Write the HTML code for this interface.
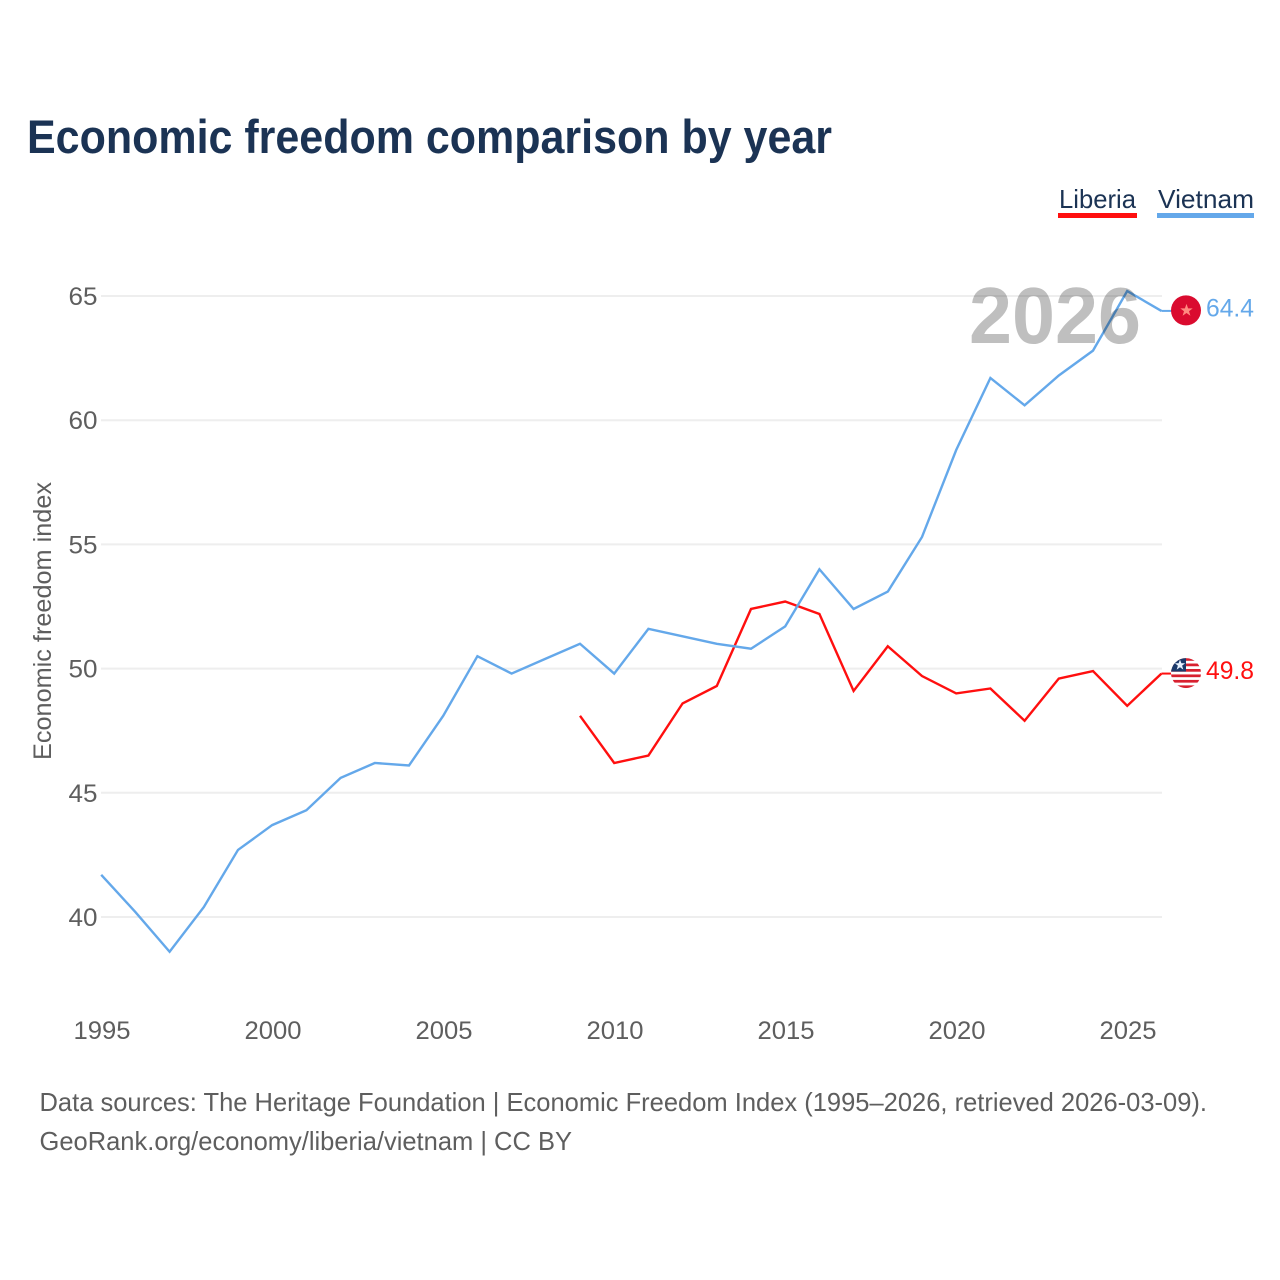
<!DOCTYPE html>
<html lang="en">
<head>
<meta charset="utf-8">
<title>Economic freedom comparison by year</title>
<style>
html,body{margin:0;padding:0;background:#fff}
svg{display:block}
text{font-family:"Liberation Sans",sans-serif}
</style>
</head>
<body>
<svg id="chart" xmlns="http://www.w3.org/2000/svg" width="1280" height="1280" viewBox="0 0 1280 1280">
  <defs>
    <clipPath id="flag-clip-lr"><circle id="clip-lr" r="15"></circle></clipPath>
  </defs>
  <rect width="1280" height="1280" fill="#fff"></rect>
  <text x="27" y="153" font-size="47" font-weight="700" fill="#1b3354" textLength="805" lengthAdjust="spacingAndGlyphs">Economic freedom comparison by year</text>

  <g>
    <text x="1059" y="208" font-size="26" fill="#1b3354" textLength="77" lengthAdjust="spacingAndGlyphs">Liberia</text>
    <rect x="1058" y="213" width="79" height="5" fill="#ff0f0f"></rect>
  </g>
  <g>
    <text x="1158" y="208" font-size="26" fill="#1b3354" textLength="96" lengthAdjust="spacingAndGlyphs">Vietnam</text>
    <rect x="1157" y="213" width="97" height="5" fill="#64a8ea"></rect>
  </g>

  <g id="grid"></g>
  <g id="y-ticks"></g>
  <g id="x-ticks"></g>
  <text transform="translate(51,621) rotate(-90)" text-anchor="middle" font-size="25" fill="#5e5e5e" textLength="278" lengthAdjust="spacingAndGlyphs">Economic freedom index</text>

  <path id="line-liberia" fill="none" stroke="#ff0f0f" stroke-width="2.4" stroke-linejoin="miter"></path>
  <path id="line-vietnam" fill="none" stroke="#64a8ea" stroke-width="2.4" stroke-linejoin="miter"></path>

  <text x="969" y="343" font-size="80" font-weight="700" fill="#000" fill-opacity="0.25" textLength="172" lengthAdjust="spacingAndGlyphs">2026</text>

  <g id="end-vietnam"></g>
  <g id="end-liberia"></g>

  <text x="39.5" y="1111" font-size="26" fill="#5e5e5e" textLength="1167.5" lengthAdjust="spacingAndGlyphs">Data sources: The Heritage Foundation | Economic Freedom Index (1995–2026, retrieved 2026-03-09).</text>
  <text x="39.5" y="1150" font-size="26" fill="#5e5e5e" textLength="532.5" lengthAdjust="spacingAndGlyphs">GeoRank.org/economy/liberia/vietnam | CC BY</text>
</svg>
<script>
const vietnamYears = [1995,1996,1997,1998,1999,2000,2001,2002,2003,2004,2005,2006,2007,2008,2009,2010,2011,2012,2013,2014,2015,2016,2017,2018,2019,2020,2021,2022,2023,2024,2025,2026];
const vietnamValues = [41.7,40.2,38.6,40.4,42.7,43.7,44.3,45.6,46.2,46.1,48.1,50.5,49.8,50.4,51.0,49.8,51.6,51.3,51.0,50.8,51.7,54.0,52.4,53.1,55.3,58.8,61.7,60.6,61.8,62.8,65.2,64.4];
const liberiaYears = [2009,2010,2011,2012,2013,2014,2015,2016,2017,2018,2019,2020,2021,2022,2023,2024,2025,2026];
const liberiaValues = [48.1,46.2,46.5,48.6,49.3,52.4,52.7,52.2,49.1,50.9,49.7,49.0,49.2,47.9,49.6,49.9,48.5,49.8];
const yTickValues = [40,45,50,55,60,65];
const xTickValues = [1995,2000,2005,2010,2015,2020,2025];

const SVG_NS = 'http://www.w3.org/2000/svg';
function xScale(year){ return 101.2 + (year - 1995) * 34.2; }
function yScale(value){ return 917 - (value - 40) * 24.84; }
function make(tag, attrs, parent){
  const el = document.createElementNS(SVG_NS, tag);
  for (const k in attrs) el.setAttribute(k, attrs[k]);
  parent.appendChild(el);
  return el;
}
function linePath(years, values){
  return years.map((y, i) => (i ? 'L' : 'M') + xScale(y).toFixed(2) + ' ' + yScale(values[i]).toFixed(2)).join(' ');
}

const gridGroup = document.getElementById('grid');
const yGroup = document.getElementById('y-ticks');
const xGroup = document.getElementById('x-ticks');

yTickValues.forEach(function(v){
  const line = make('line', {x1: 101, x2: 1162, y1: yScale(v), y2: yScale(v), stroke: '#eeeeee', 'stroke-width': 2}, gridGroup);
  
  
  const t = make('text', {x: 97.5, y: yScale(v) + 9, 'text-anchor': 'end', 'font-size': 25, fill: '#5e5e5e', textLength: 29, lengthAdjust: 'spacingAndGlyphs'}, yGroup);
  t.textContent = String(v);
  
  
});

xTickValues.forEach(function(v){
  const t = make('text', {x: xScale(v) + 0.8, y: 1039, 'text-anchor': 'middle', 'font-size': 25, fill: '#5e5e5e', textLength: 57, lengthAdjust: 'spacingAndGlyphs'}, xGroup);
  t.textContent = String(v);
  
  
});

document.getElementById('line-vietnam').setAttribute('d', linePath(vietnamYears, vietnamValues));
document.getElementById('line-liberia').setAttribute('d', linePath(liberiaYears, liberiaValues));

/* Vietnam end marker */
const vnValue = vietnamValues[vietnamValues.length - 1];
const vnY = yScale(vnValue) - 0.5;
const vnGroup = document.getElementById('end-vietnam');
const vnConnector = make('line', {x1: xScale(2026), x2: 1172, y1: yScale(vnValue), y2: yScale(vnValue), stroke: '#64a8ea', 'stroke-width': 2}, vnGroup);


const vnDisc = make('circle', {cx: 1186, cy: vnY, r: 15, fill: '#da0b2f'}, vnGroup);


const vnStar = make('polygon', {
  points: '0,-6.5 1.6,-2 6.2,-2 2.5,0.8 3.9,5.3 0,2.6 -3.9,5.3 -2.5,0.8 -6.2,-2 -1.6,-2',
  transform: 'translate(1186.5,' + vnY + ')',
  fill: '#ff8a80'
}, vnGroup);


const vnLabel = make('text', {x: 1206, y: vnY + 6, 'font-size': 25, fill: '#64a8ea', textLength: 48, lengthAdjust: 'spacingAndGlyphs'}, vnGroup);
vnLabel.textContent = vnValue.toFixed(1);



/* Liberia end marker */
const lrValue = liberiaValues[liberiaValues.length - 1];
const lrY = yScale(lrValue) - 0.5;
const lrGroup = document.getElementById('end-liberia');
const lrConnector = make('line', {x1: xScale(2026), x2: 1172, y1: yScale(lrValue), y2: yScale(lrValue), stroke: '#ff0f0f', 'stroke-width': 2}, lrGroup);


const clipLr = document.getElementById('clip-lr');
clipLr.setAttribute('cx', 1186);
clipLr.setAttribute('cy', lrY);
const lrFlag = make('g', {'clip-path': 'url(#flag-clip-lr)'}, lrGroup);


make('rect', {x: 1171, y: lrY - 15, width: 30, height: 30, fill: '#fff'}, lrFlag);
[0, 2, 4, 6, 8, 10].forEach(function(i){
  make('rect', {x: 1171, y: lrY - 15 + i * 2.73, width: 30, height: 2.73, fill: '#d8202f'}, lrFlag);
});
make('rect', {x: 1171, y: lrY - 15, width: 15, height: 13.5, fill: '#1b3a6b'}, lrFlag);
make('polygon', {
  points: '0,-5.5 1.4,-1.8 5.2,-1.8 2.1,0.6 3.3,4.5 0,2.2 -3.3,4.5 -2.1,0.6 -5.2,-1.8 -1.4,-1.8',
  transform: 'translate(1180,' + (lrY - 8) + ')',
  fill: '#e8f2ff'
}, lrFlag);
const lrLabel = make('text', {x: 1206, y: lrY + 6, 'font-size': 25, fill: '#ff0f0f', textLength: 48, lengthAdjust: 'spacingAndGlyphs'}, lrGroup);
lrLabel.textContent = lrValue.toFixed(1);


</script>
</body>
</html>
